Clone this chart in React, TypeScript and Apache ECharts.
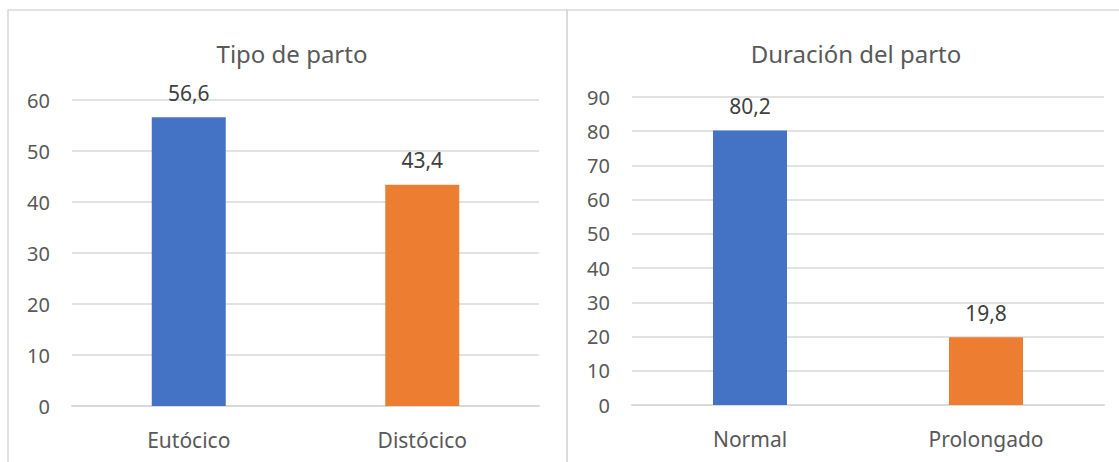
import React, { useEffect, useRef } from "react";
import * as echarts from "echarts";

const leftTitle = "Tipo de parto";
const leftCategories = ["Eutócico", "Distócico"];
const leftValues = [56.6, 43.4];

const rightTitle = "Duración del parto";
const rightCategories = ["Normal", "Prolongado"];
const rightValues = [80.2, 19.8];

const barColors = ["#4472C4", "#ED7D31"];
const FONT = "'Noto Sans', sans-serif";

export default function App() {
  const ref = useRef<HTMLDivElement>(null);
  useEffect(() => {
    const chart = echarts.init(ref.current!, null, { renderer: "svg" });
    const fmt = (p: any) => String(p.value).replace(".", ",");
    const mkSeries = (vals: number[], idx: number) => ({
      type: "bar",
      xAxisIndex: idx,
      yAxisIndex: idx,
      barWidth: 74,
      data: vals.map((v, i) => ({ value: v, itemStyle: { color: barColors[i] } })),
      label: {
        show: true,
        position: "top",
        distance: 14,
        formatter: fmt,
        color: "#404040",
        fontSize: 21,
        fontFamily: FONT,
      },
    });
    const mkX = (cats: string[], idx: number) => ({
      type: "category",
      gridIndex: idx,
      data: cats,
      axisLine: { show: true, lineStyle: { color: "#d9d9d9", width: 2 } },
      axisTick: { show: false },
      axisLabel: { color: "#595959", fontSize: 21, fontFamily: FONT, margin: 23 },
    });
    const mkY = (max: number, idx: number) => ({
      type: "value",
      gridIndex: idx,
      min: 0,
      max,
      interval: 10,
      axisLine: { show: false },
      axisTick: { show: false },
      splitLine: { lineStyle: { color: "#d9d9d9", width: 1.5 } },
      axisLabel: { color: "#595959", fontSize: 20, fontFamily: FONT, margin: 22 },
    });
    chart.setOption({
      animation: false,
      backgroundColor: "#ffffff",
      title: [
        {
          text: leftTitle,
          left: 287,
          top: 36,
          textAlign: "center",
          textStyle: { color: "#595959", fontSize: 24, fontWeight: "normal", fontFamily: FONT },
        },
        {
          text: rightTitle,
          left: 851,
          top: 36,
          textAlign: "center",
          textStyle: { color: "#595959", fontSize: 24, fontWeight: "normal", fontFamily: FONT },
        },
      ],
      grid: [
        { left: 72, right: 580, top: 100, bottom: 56 },
        { left: 632, right: 15, top: 97, bottom: 57 },
      ],
      xAxis: [mkX(leftCategories, 0), mkX(rightCategories, 1)],
      yAxis: [mkY(60, 0), mkY(90, 1)],
      series: [mkSeries(leftValues, 0), mkSeries(rightValues, 1)],
      graphic: [
        {
          type: "rect",
          shape: { x: 8, y: 10, width: 559, height: 480 },
          style: { fill: "none", stroke: "#d9d9d9", lineWidth: 1.5 },
          silent: true,
        },
        {
          type: "rect",
          shape: { x: 567, y: 10, width: 600, height: 480 },
          style: { fill: "none", stroke: "#d9d9d9", lineWidth: 1.5 },
          silent: true,
        },
      ],
    });
    return () => chart.dispose();
  }, []);
  return (
    <div
      ref={ref}
      style={{ position: "fixed", left: 0, top: 0, width: 1119, height: 462 }}
    />
  );
}
